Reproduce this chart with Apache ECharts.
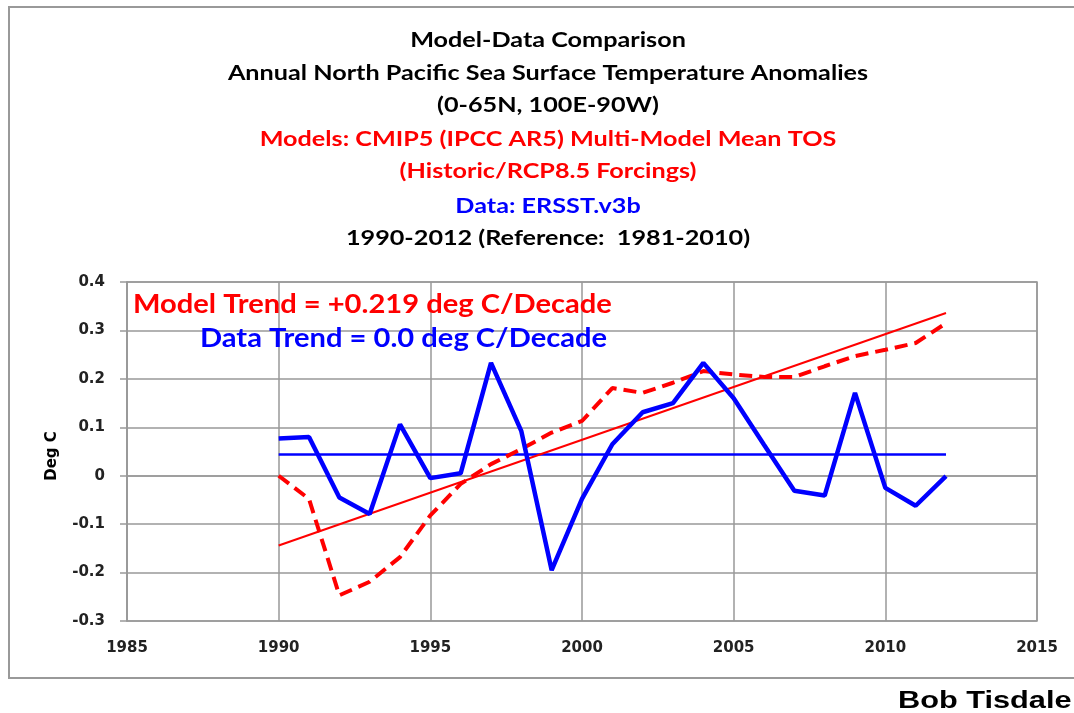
<!DOCTYPE html>
<html>
<head>
<meta charset="utf-8">
<script src="https://cdn.jsdelivr.net/npm/echarts@6/dist/echarts.min.js"></script>
<style>
  html, body { margin: 0; padding: 0; background: #fff; }
</style>
</head>
<body>
<div id="sstChart" style="width: 1074px; height: 713px;"></div>
<script>
// annual anomalies, deg C
const years = [1990, 1991, 1992, 1993, 1994, 1995, 1996, 1997, 1998, 1999, 2000, 2001,
  2002, 2003, 2004, 2005, 2006, 2007, 2008, 2009, 2010, 2011, 2012]
const modelMean = [0.0, -0.048, -0.247, -0.219, -0.168, -0.082, -0.017, 0.024, 0.055, 0.089, 0.113, 0.181,
  0.171, 0.192, 0.216, 0.209, 0.204, 0.204, 0.226, 0.247, 0.26, 0.274, 0.315]
const ersst = [0.077, 0.080, -0.045, -0.079, 0.106, -0.005, 0.005, 0.233, 0.092, -0.195, -0.048, 0.065,
  0.131, 0.150, 0.233, 0.160, 0.064, -0.031, -0.041, 0.171, -0.025, -0.062, -0.001]
const trendYears = [1990, 2012]
const modelTrend = [-0.144, 0.336]
const dataTrend = [0.044, 0.044]

const titleLines = [
  { text: 'Model-Data Comparison', color: '#000' },
  { text: 'Annual North Pacific Sea Surface Temperature Anomalies', color: '#000' },
  { text: '(0-65N, 100E-90W)', color: '#000' },
  { text: 'Models: CMIP5 (IPCC AR5) Multi-Model Mean TOS', color: '#ff0000' },
  { text: '(Historic/RCP8.5 Forcings)', color: '#ff0000' },
  { text: 'Data: ERSST.v3b', color: '#0000ff' },
  { text: '1990-2012 (Reference:  1981-2010)', color: '#000' }
]
const titleY = [41, 74, 106, 140, 172, 207, 239]

const font = 'Lato, "Open Sans", sans-serif'
const tickFont = '"DejaVu Sans", sans-serif'
// the original picture is stretched sideways a little
const stretch = 1.26
const pair = (xs, ys) => xs.map((x, i) => [x, ys[i]])

const chart = echarts.init(document.getElementById('sstChart'))

const graphics = [
  {
    type: 'rect',
    shape: { x: 9, y: 7, width: 1080, height: 671 },
    style: { fill: 'none', stroke: '#999', lineWidth: 2 },
    z: 0
  },
  {
    type: 'text',
    x: 898, y: 701, scaleX: 1.28,
    style: { text: 'Bob Tisdale', font: 'bold 24px "Liberation Sans", Arial', fill: '#000', textVerticalAlign: 'middle' }
  },
  {
    type: 'text',
    x: 133, y: 305, scaleX: 1.12,
    style: { text: 'Model Trend = +0.219 deg C/Decade', font: 'bold 26px ' + font, fill: '#ff0000', textVerticalAlign: 'middle' },
    z: 10
  },
  {
    type: 'text',
    x: 200, y: 339, scaleX: 1.12,
    style: { text: 'Data Trend = 0.0 deg C/Decade', font: 'bold 26px ' + font, fill: '#0000ff', textVerticalAlign: 'middle' },
    z: 10
  },
  {
    type: 'text',
    x: 52, y: 456, rotation: Math.PI / 2,
    style: { text: 'Deg C', font: 'bold 15px ' + tickFont, fill: '#000', textAlign: 'center', textVerticalAlign: 'middle' }
  }
]
titleLines.forEach((t, i) => {
  graphics.push({
    type: 'text',
    x: 548, y: titleY[i], scaleX: stretch,
    style: { text: t.text, font: 'bold 20px ' + font, fill: t.color, textAlign: 'center', textVerticalAlign: 'middle' }
  })
})

chart.setOption({
  animation: false,
  backgroundColor: '#fff',
  grid: { left: 127, top: 282, right: 37, bottom: 92, show: true, borderColor: '#999', borderWidth: 1.5 },
  xAxis: {
    type: 'value',
    min: 1985,
    max: 2015,
    interval: 5,
    axisLine: { lineStyle: { color: '#999', width: 1.5 } },
    axisTick: { show: false },
    axisLabel: { color: '#222', fontFamily: tickFont, fontWeight: 'bold', fontSize: 15, margin: 20, formatter: v => String(v) },
    splitLine: { show: true, lineStyle: { color: '#999', width: 1.5 } }
  },
  yAxis: {
    type: 'value',
    min: -0.3,
    max: 0.4,
    interval: 0.1,
    axisLine: { show: true, lineStyle: { color: '#999', width: 1.5 } },
    axisTick: { show: true, length: 7, lineStyle: { color: '#999', width: 1.5 } },
    axisLabel: {
      color: '#222', fontFamily: tickFont, fontWeight: 'bold', fontSize: 15, margin: 22,
      formatter: v => String(Math.round(v * 10) / 10)
    },
    splitLine: { show: true, lineStyle: { color: '#999', width: 1.5 } }
  },
  graphic: graphics,
  series: [
    {
      name: 'Data trend',
      type: 'line',
      data: pair(trendYears, dataTrend),
      symbol: 'none',
      lineStyle: { color: '#0000ff', width: 2.5 },
      z: 3
    },
    {
      name: 'Model trend',
      type: 'line',
      data: pair(trendYears, modelTrend),
      symbol: 'none',
      lineStyle: { color: '#ff0000', width: 2 },
      z: 3
    },
    {
      name: 'Models',
      type: 'line',
      data: pair(years, modelMean),
      symbol: 'none',
      lineStyle: { color: '#ff0000', width: 4, type: [13, 7] },
      z: 4
    },
    {
      name: 'ERSST.v3b',
      type: 'line',
      data: pair(years, ersst),
      symbol: 'none',
      lineStyle: { color: '#0000ff', width: 4.5 },
      z: 5
    }
  ]
})
</script>
</body>
</html>
